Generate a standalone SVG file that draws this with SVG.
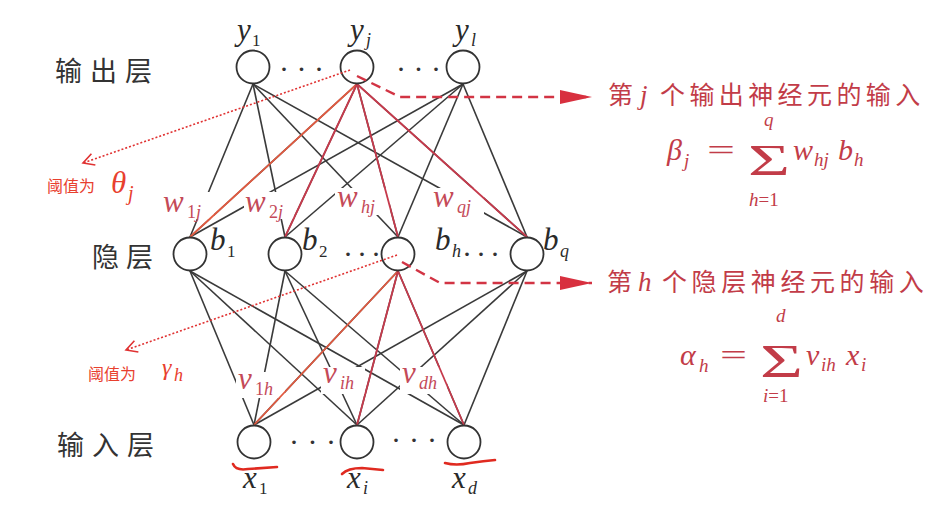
<svg xmlns="http://www.w3.org/2000/svg" width="947" height="521" viewBox="0 0 947 521">
<defs>
<marker id="tri" viewBox="0 0 32 16" refX="32" refY="8" markerWidth="32" markerHeight="16" markerUnits="userSpaceOnUse" orient="auto">
<path d="M0,1 L32,8 L0,15 Z" fill="#d8303f"/>
</marker>
<marker id="open" viewBox="-14 -9 16 18" refX="0" refY="0" markerWidth="16" markerHeight="18" markerUnits="userSpaceOnUse" orient="auto">
<path d="M-11,-6 L0,0 L-11,6" fill="none" stroke="#e03232" stroke-width="1.6"/>
</marker>
</defs>
<rect width="947" height="521" fill="#fff"/>

<g id="connectors">
<g stroke="#3a3a3a" stroke-width="1.6" fill="none">
<line x1="253" y1="84" x2="190" y2="237"/><line x1="253" y1="84" x2="285" y2="237"/><line x1="253" y1="84" x2="398" y2="237"/><line x1="253" y1="84" x2="527" y2="237"/>
<line x1="357" y1="84" x2="190" y2="237"/><line x1="357" y1="84" x2="285" y2="237"/><line x1="357" y1="84" x2="398" y2="237"/><line x1="357" y1="84" x2="527" y2="237"/>
<line x1="463" y1="84" x2="190" y2="237"/><line x1="463" y1="84" x2="285" y2="237"/><line x1="463" y1="84" x2="398" y2="237"/><line x1="463" y1="84" x2="527" y2="237"/>
<line x1="190" y1="271" x2="254" y2="425"/><line x1="190" y1="271" x2="357" y2="425"/><line x1="190" y1="271" x2="464" y2="425"/>
<line x1="285" y1="271" x2="254" y2="425"/><line x1="285" y1="271" x2="357" y2="425"/><line x1="285" y1="271" x2="464" y2="425"/>
<line x1="398" y1="271" x2="254" y2="425"/><line x1="398" y1="271" x2="357" y2="425"/><line x1="398" y1="271" x2="464" y2="425"/>
<line x1="527" y1="271" x2="254" y2="425"/><line x1="527" y1="271" x2="357" y2="425"/><line x1="527" y1="271" x2="464" y2="425"/>
</g>
<g fill="#fff">
<rect x="162" y="192" width="52" height="27"/>
<rect x="244" y="192" width="50" height="27"/>
<rect x="335" y="188" width="55" height="27"/>
<rect x="431" y="188" width="53" height="27"/>
<rect x="236" y="372" width="49" height="26"/>
<rect x="321" y="367" width="44" height="27"/>
<rect x="400" y="367" width="47" height="27"/>
</g>
<g stroke-width="1.8" fill="none">
<line stroke="#e25a40" x1="357" y1="84" x2="190" y2="237"/>
<line stroke="#c63a4c" x1="357" y1="84" x2="285" y2="237"/>
<line stroke="#c63a4c" x1="357" y1="84" x2="398" y2="237"/>
<line stroke="#c63a4c" x1="357" y1="84" x2="527" y2="237"/>
<line stroke="#e25a40" x1="398" y1="271" x2="254" y2="425"/>
<line stroke="#c63a4c" x1="398" y1="271" x2="357" y2="425"/>
<line stroke="#c63a4c" x1="398" y1="271" x2="464" y2="425"/>
</g>
</g>

<g id="weight-labels" fill="#c44a58">
<text x="163" y="212" font-size="31" font-family="Liberation Serif, serif" font-style="italic">w</text><text x="187" y="218" font-size="18" font-family="Liberation Serif, serif" font-style="italic"><tspan font-style="normal">1</tspan>j</text>
<text x="245" y="212" font-size="31" font-family="Liberation Serif, serif" font-style="italic">w</text><text x="269" y="218" font-size="18" font-family="Liberation Serif, serif" font-style="italic"><tspan font-style="normal">2</tspan>j</text>
<text x="337" y="207" font-size="31" font-family="Liberation Serif, serif" font-style="italic">w</text><text x="361" y="213" font-size="18" font-family="Liberation Serif, serif" font-style="italic">hj</text>
<text x="433" y="207" font-size="31" font-family="Liberation Serif, serif" font-style="italic">w</text><text x="457" y="213" font-size="18" font-family="Liberation Serif, serif" font-style="italic">qj</text>
<text x="238" y="389" font-size="31" font-family="Liberation Serif, serif" font-style="italic">v</text><text x="255" y="395" font-size="18" font-family="Liberation Serif, serif" font-style="italic"><tspan font-style="normal">1</tspan>h</text>
<text x="323" y="383" font-size="31" font-family="Liberation Serif, serif" font-style="italic">v</text><text x="340" y="389" font-size="18" font-family="Liberation Serif, serif" font-style="italic">ih</text>
<text x="402" y="383" font-size="31" font-family="Liberation Serif, serif" font-style="italic">v</text><text x="419" y="389" font-size="18" font-family="Liberation Serif, serif" font-style="italic">dh</text>
</g>

<g id="layer-labels" fill="#333">
<text x="55" y="81" font-size="27" font-family="Noto Sans CJK SC, sans-serif" letter-spacing="8">输出层</text>
<text x="92" y="267" font-size="27" font-family="Noto Sans CJK SC, sans-serif" letter-spacing="7">隐层</text>
<text x="57" y="455" font-size="27" font-family="Noto Sans CJK SC, sans-serif" letter-spacing="8">输入层</text>
</g>

<g fill="#2a2a2a">
<g id="node-y1"><circle cx="253" cy="67" r="16.5" fill="#fff" stroke="#333" stroke-width="1.8"/><text x="237" y="40" font-size="31" font-family="Liberation Serif, serif" font-style="italic">y</text><text x="252" y="46" font-size="17" font-family="Liberation Serif, serif">1</text></g>
<g id="node-yj"><circle cx="357" cy="67" r="16.5" fill="#fff" stroke="#333" stroke-width="1.8"/><text x="350" y="40" font-size="31" font-family="Liberation Serif, serif" font-style="italic">y</text><text x="366" y="46" font-size="18" font-family="Liberation Serif, serif" font-style="italic">j</text></g>
<g id="node-yl"><circle cx="463" cy="67" r="16.5" fill="#fff" stroke="#333" stroke-width="1.8"/><text x="455" y="40" font-size="31" font-family="Liberation Serif, serif" font-style="italic">y</text><text x="471" y="46" font-size="18" font-family="Liberation Serif, serif" font-style="italic">l</text></g>
<g id="node-b1"><circle cx="190" cy="254" r="16.5" fill="#fff" stroke="#333" stroke-width="1.8"/><text x="210" y="250" font-size="31" font-family="Liberation Serif, serif" font-style="italic">b</text><text x="227" y="257" font-size="17" font-family="Liberation Serif, serif">1</text></g>
<g id="node-b2"><circle cx="285" cy="254" r="16.5" fill="#fff" stroke="#333" stroke-width="1.8"/><text x="302" y="250" font-size="31" font-family="Liberation Serif, serif" font-style="italic">b</text><text x="319" y="257" font-size="17" font-family="Liberation Serif, serif">2</text></g>
<g id="node-bh"><circle cx="398" cy="254" r="16.5" fill="#fff" stroke="#333" stroke-width="1.8"/><text x="435" y="250" font-size="31" font-family="Liberation Serif, serif" font-style="italic">b</text><text x="452" y="257" font-size="18" font-family="Liberation Serif, serif" font-style="italic">h</text></g>
<g id="node-bq"><circle cx="527" cy="254" r="16.5" fill="#fff" stroke="#333" stroke-width="1.8"/><text x="543" y="250" font-size="31" font-family="Liberation Serif, serif" font-style="italic">b</text><text x="560" y="257" font-size="18" font-family="Liberation Serif, serif" font-style="italic">q</text></g>
<g id="node-x1"><circle cx="254" cy="442" r="16.5" fill="#fff" stroke="#333" stroke-width="1.8"/><text x="243" y="488" font-size="31" font-family="Liberation Serif, serif" font-style="italic">x</text><text x="259" y="494" font-size="17" font-family="Liberation Serif, serif">1</text></g>
<g id="node-xi"><circle cx="357" cy="442" r="16.5" fill="#fff" stroke="#333" stroke-width="1.8"/><text x="347" y="488" font-size="31" font-family="Liberation Serif, serif" font-style="italic">x</text><text x="363" y="494" font-size="18" font-family="Liberation Serif, serif" font-style="italic">i</text></g>
<g id="node-xd"><circle cx="464" cy="442" r="16.5" fill="#fff" stroke="#333" stroke-width="1.8"/><text x="452" y="488" font-size="31" font-family="Liberation Serif, serif" font-style="italic">x</text><text x="468" y="494" font-size="18" font-family="Liberation Serif, serif" font-style="italic">d</text></g>
</g>

<g id="ellipses" fill="#333">
<text x="279" y="79" font-size="30" font-family="Liberation Serif, serif" letter-spacing="7.5">···</text>
<text x="396" y="79" font-size="30" font-family="Liberation Serif, serif" letter-spacing="7.5">···</text>
<text x="343" y="264" font-size="30" font-family="Liberation Serif, serif" letter-spacing="4">···</text>
<text x="462" y="264" font-size="30" font-family="Liberation Serif, serif" letter-spacing="4">···</text>
<text x="289" y="452" font-size="30" font-family="Liberation Serif, serif" letter-spacing="8.5">···</text>
<text x="391" y="450" font-size="30" font-family="Liberation Serif, serif" letter-spacing="8">···</text>
</g>

<g id="annotations">
<g stroke="#e03232" stroke-width="1.6" fill="none" stroke-dasharray="2 2">
<path d="M350,70 L83,163" marker-end="url(#open)"/>
<path d="M397,255 L126,350" marker-end="url(#open)"/>
</g>
<g stroke="#d23444" stroke-width="2.4" fill="none" stroke-dasharray="10 6">
<path d="M357,76 L400,97 L592,97" marker-end="url(#tri)"/>
<path d="M402,262 L440,283 L592,283" marker-end="url(#tri)"/>
</g>
<g fill="#e8402e">
<text x="47" y="192" font-size="16" font-family="Noto Sans CJK SC, sans-serif">阈值为</text>
<text x="88" y="380" font-size="16" font-family="Noto Sans CJK SC, sans-serif">阈值为</text>
<text x="111" y="193" font-size="31" font-family="Liberation Serif, serif" font-style="italic">θ</text><text x="128" y="200" font-size="20" font-family="Liberation Serif, serif" font-style="italic">j</text>
<text x="162" y="375" font-size="24" font-family="Liberation Serif, serif" font-style="italic">γ</text><text x="174" y="381" font-size="18" font-family="Liberation Serif, serif" font-style="italic">h</text>
</g>
<g stroke="#e02a20" stroke-width="2.6" fill="none" stroke-linecap="round">
<path d="M233,464 Q236,471 248,469 L277,467"/>
<path d="M342,474 Q348,468 362,468 L383,470"/>
<path d="M445,463 Q456,466 470,463 Q484,461 495,460"/>
</g>
</g>

<g id="formula-output" fill="#c23c48">
<text x="608" y="104" font-size="25" font-family="Noto Sans CJK SC, sans-serif">第</text>
<text x="660" y="104" font-size="25" font-family="Noto Sans CJK SC, sans-serif" letter-spacing="4.4">个输出神经元的输入</text>
<text x="640" y="104" font-size="27" font-family="Liberation Serif, serif" font-style="italic">j</text>
<text x="667" y="160" font-size="30" font-family="Liberation Serif, serif" font-style="italic">β</text><text x="684" y="167" font-size="19" font-family="Liberation Serif, serif" font-style="italic">j</text>
<text x="707" y="160" font-size="30" font-family="Liberation Serif, serif" textLength="28" lengthAdjust="spacingAndGlyphs">=</text>
<text x="748" y="175" font-size="45" font-family="Liberation Serif, serif" textLength="42" lengthAdjust="spacingAndGlyphs">Σ</text>
<text x="764" y="126" font-size="19" font-family="Liberation Serif, serif" font-style="italic">q</text>
<text x="749" y="206" font-size="19" font-family="Liberation Serif, serif" font-style="italic">h<tspan font-style="normal">=1</tspan></text>
<text x="793" y="160" font-size="30" font-family="Liberation Serif, serif" font-style="italic">w</text><text x="814" y="166" font-size="19" font-family="Liberation Serif, serif" font-style="italic">hj</text>
<text x="838" y="160" font-size="30" font-family="Liberation Serif, serif" font-style="italic">b</text><text x="854" y="166" font-size="19" font-family="Liberation Serif, serif" font-style="italic">h</text>
</g>

<g id="formula-hidden" fill="#c23c48">
<text x="607" y="291" font-size="25" font-family="Noto Sans CJK SC, sans-serif">第</text>
<text x="662" y="291" font-size="25" font-family="Noto Sans CJK SC, sans-serif" letter-spacing="4.6">个隐层神经元的输入</text>
<text x="638" y="291" font-size="27" font-family="Liberation Serif, serif" font-style="italic">h</text>
<text x="680" y="365" font-size="30" font-family="Liberation Serif, serif" font-style="italic">α</text><text x="699" y="372" font-size="19" font-family="Liberation Serif, serif" font-style="italic">h</text>
<text x="720" y="365" font-size="30" font-family="Liberation Serif, serif" textLength="27" lengthAdjust="spacingAndGlyphs">=</text>
<text x="760" y="377" font-size="46" font-family="Liberation Serif, serif" textLength="43" lengthAdjust="spacingAndGlyphs">Σ</text>
<text x="776" y="322" font-size="19" font-family="Liberation Serif, serif" font-style="italic">d</text>
<text x="763" y="402" font-size="19" font-family="Liberation Serif, serif" font-style="italic">i<tspan font-style="normal">=1</tspan></text>
<text x="806" y="365" font-size="30" font-family="Liberation Serif, serif" font-style="italic">v</text><text x="821" y="371" font-size="19" font-family="Liberation Serif, serif" font-style="italic">ih</text>
<text x="846" y="365" font-size="30" font-family="Liberation Serif, serif" font-style="italic">x</text><text x="861" y="371" font-size="19" font-family="Liberation Serif, serif" font-style="italic">i</text>
</g>
</svg>
